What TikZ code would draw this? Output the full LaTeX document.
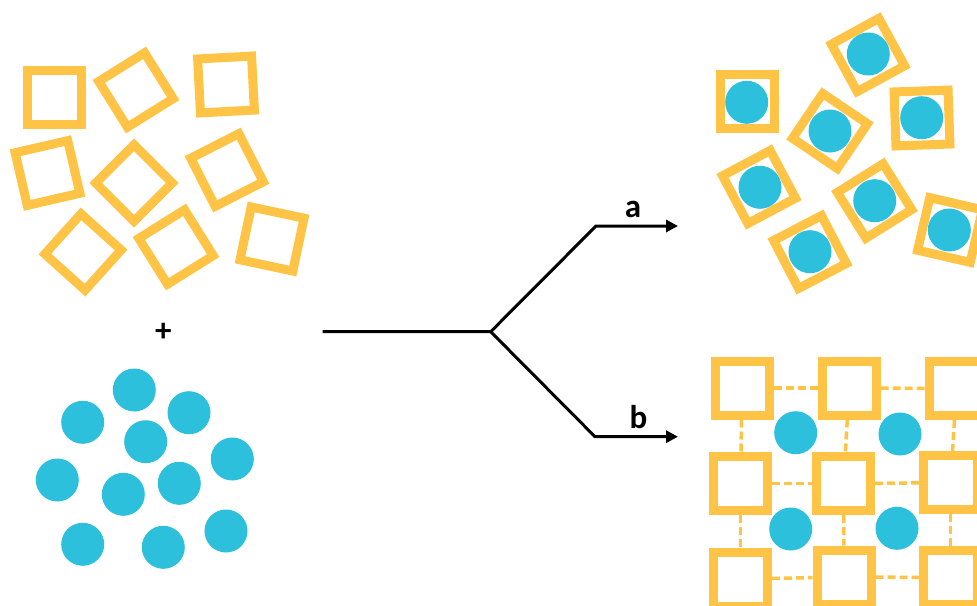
\documentclass[tikz,border=0pt]{standalone}
\usepackage{fontspec}
\setmainfont{Carlito}
\usetikzlibrary{arrows.meta}
\definecolor{sqyellow}{HTML}{FFC445}
\definecolor{dotblue}{HTML}{2CC0DC}
\tikzset{
  sq/.style={draw=sqyellow, line width=9pt, minimum size=54pt, inner sep=0pt, shape=rectangle},
  dot/.style={circle, fill=dotblue, minimum size=43pt, inner sep=0pt},
  link/.style={draw=sqyellow, line width=3.5pt, dash pattern=on 8pt off 4pt},
  flow/.style={line width=3pt, line join=miter, -{Triangle[length=12pt,width=12pt]}},
  lbl/.style={font=\fontsize{33}{36}\selectfont\bfseries, inner sep=0pt}
}
\begin{document}
\begin{tikzpicture}[x=1pt,y=-1pt]
\useasboundingbox (0,0) rectangle (977,605);
\clip (0,0) rectangle (977,605);
% top-left squares
\node[sq, rotate=0]  (q1) at (54,97) {};
\node[sq, rotate=32] (q2) at (136,90) {};
\node[sq, rotate=3]  (q3) at (226,84.5) {};
\node[sq, rotate=13] (q4) at (47.5,173) {};
\node[sq, rotate=45] (q5) at (134,183) {};
\node[sq, rotate=27] (q6) at (227,170) {};
\node[sq, rotate=48] (q7) at (83,252) {};
\node[sq, rotate=32] (q8) at (176,247) {};
\node[sq, rotate=-12](q9) at (272,239) {};
% plus
\node[lbl] (plus) at (163.3,332) {+};
% bottom-left circles
\node[dot] (c1)  at (134.3,390) {};
\node[dot] (c2)  at (82.7,422.3) {};
\node[dot] (c3)  at (189,412.7) {};
\node[dot] (c4)  at (145.7,441.7) {};
\node[dot] (c5)  at (232.3,459) {};
\node[dot] (c6)  at (57.3,480) {};
\node[dot] (c7)  at (123.3,494.3) {};
\node[dot] (c8)  at (179.3,483.3) {};
\node[dot] (c9)  at (82.7,544.3) {};
\node[dot] (c10) at (163.3,547.3) {};
\node[dot] (c11) at (226,531) {};
% reaction arrows
\coordinate (start) at (322.7,331.7);
\coordinate (fork)  at (490.7,331.7);
\coordinate (ua)    at (596,226);
\coordinate (ea)    at (678,226);
\coordinate (lb)    at (595,436.7);
\coordinate (eb)    at (678,436.7);
\draw[flow] (start) -- (fork) -- (ua) -- (ea);
\draw[flow] (fork) -- (lb) -- (eb);
\node[lbl, anchor=base] (la) at (633,217.3) {a};
\node[lbl, anchor=base] (lb2) at (638.5,428) {b};
% top-right: filled squares
\node[sq, rotate=0]     (p1) at (747,101.5) {};
\node[sq, rotate=28.6]  (p2) at (868,55) {};
\node[sq, rotate=2]     (p3) at (922,118) {};
\node[sq, rotate=-34]   (p4) at (830,131) {};
\node[sq, rotate=28]    (p5) at (759,187) {};
\node[sq, rotate=32]    (p6) at (874.5,201) {};
\node[sq, rotate=27.5]  (p7) at (810,252) {};
\node[sq, rotate=-13]   (p8) at (950,230) {};
\node[dot] (d1) at (746.7,102.3) {};
\node[dot] (d2) at (868.3,54) {};
\node[dot] (d3) at (921.7,117.7) {};
\node[dot] (d4) at (830,131) {};
\node[dot] (d5) at (760,187.3) {};
\node[dot] (d6) at (874.7,200.7) {};
\node[dot] (d7) at (810,251.7) {};
\node[dot] (d8) at (949.3,230) {};
% bottom-right: framework grid
\node[sq] (g11) at (742,388) {};
\node[sq] (g12) at (849.2,388) {};
\node[sq] (g13) at (956.5,388.5) {};
\node[sq] (g21) at (740.5,483.7) {};
\node[sq] (g22) at (843.5,483.7) {};
\node[sq] (g23) at (950.5,482.5) {};
\node[sq] (g31) at (740.5,579) {};
\node[sq] (g32) at (844.2,577) {};
\node[sq] (g33) at (950.5,577.5) {};
\draw[link] (g11) -- (g12);
\draw[link] (g12) -- (g13);
\draw[link] (g21) -- (g22);
\draw[link] (g22) -- (g23);
\draw[link] (g31) -- (g32);
\draw[link] (g32) -- (g33);
\draw[link] (g11) -- (g21);
\draw[link] (g21) -- (g31);
\draw[link] (g12) -- (g22);
\draw[link] (g22) -- (g32);
\draw[link] (g13) -- (g23);
\draw[link] (g23) -- (g33);
\node[dot] (e1) at (795.7,432.7) {};
\node[dot] (e2) at (900,434) {};
\node[dot] (e3) at (790.7,529) {};
\node[dot] (e4) at (897,528.3) {};
\end{tikzpicture}
\end{document}
